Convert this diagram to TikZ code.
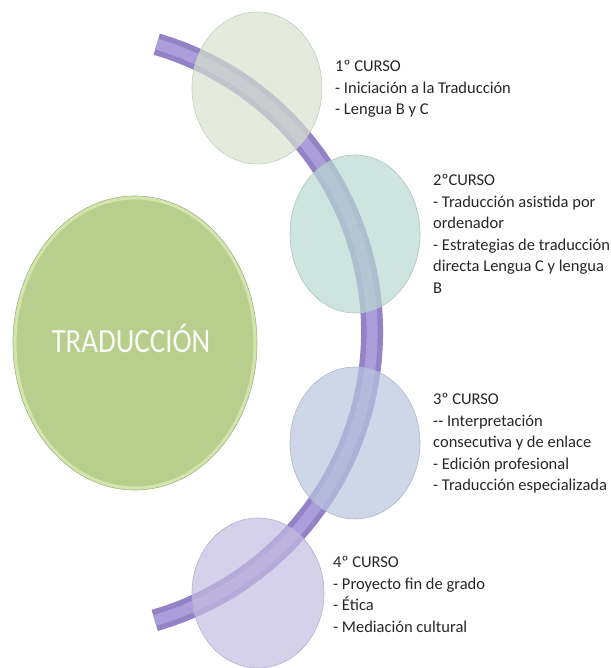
\documentclass[tikz,border=0pt]{standalone}
\usepackage{fontspec}
\setmainfont{Carlito}
\newfontfamily\titlefont{Carlito}[FakeStretch=0.85]
\usetikzlibrary{positioning,shapes.geometric}
\definecolor{bandouter}{HTML}{9482C7}
\definecolor{bandinner}{HTML}{AC9EDA}
\definecolor{titlegreen}{HTML}{B8CE8D}
\definecolor{titlerim}{HTML}{D2E5AD}
\definecolor{textgray}{HTML}{262626}
\definecolor{primero}{HTML}{D8E1CD}
\definecolor{segundo}{HTML}{B8D8D1}
\definecolor{tercero}{HTML}{B9C6DE}
\definecolor{cuarto}{HTML}{C4BDE1}

\begin{document}
\begin{tikzpicture}[
    x=1pt, y=1pt,
    every node/.style={inner sep=0pt},
    curso/.style={ellipse, minimum width=132pt, minimum height=154pt,
        fill opacity=0.7, line width=0.6pt},
    nota/.style={anchor=base west, align=left, text=textgray,
        font=\fontsize{16.5}{21.5}\selectfont}
]
    \useasboundingbox (0,0) rectangle (610,668);

    % the purple band, behind everything
    \coordinate (arcc) at (72,336);
    \draw[bandouter, line width=22pt] ([shift={(73.6:300)}]arcc) arc[start angle=73.6, end angle=-74, radius=300];
    \draw[bandinner, line width=11pt] ([shift={(73.6:300)}]arcc) arc[start angle=73.6, end angle=-74, radius=300];

    % central circle
    \node[ellipse, minimum width=244pt, minimum height=294pt, fill=titlegreen,
        draw=titlegreen!70!gray, line width=0.6pt,
        path picture={\draw[titlerim, line width=7pt] (path picture bounding box.center) ellipse[x radius=122, y radius=147];}]
        (trad) at (135,325) {};
    \node[text=white!92!titlegreen, font=\titlefont\fontsize{34}{40}\selectfont] (tradtext) at (131,330) {TRADUCCIÓN};

    % one circle per year, on the band
    \node[curso, fill=primero, draw=primero!80!gray, minimum height=152pt, minimum width=130pt] (c1) at (257,580) {};
    \node[curso, fill=segundo, draw=segundo!80!gray, minimum height=158pt, minimum width=130pt] (c2) at (355,434) {};
    \node[curso, fill=tercero, draw=tercero!80!gray, minimum height=152pt, minimum width=130pt] (c3) at (355,225) {};
    \node[curso, fill=cuarto, draw=cuarto!80!gray, minimum height=150pt] (c4) at (258,75) {};

    % the notes (base = last line)
    \node[nota] (n1) at (335,553) {1º CURSO\\- Iniciación a la Traducción\\- Lengua B y C};
    \node[nota] (n2) at (433,374.5) {2ºCURSO\\- Traducción asistida por\\ordenador\\- Estrategias de traducción\\directa Lengua C y lengua\\B};
    \node[nota] (n3) at (433,177) {3º CURSO\\-{}- Interpretación\\consecutiva y de enlace\\- Edición profesional\\- Traducción especializada};
    \node[nota] (n4) at (333,35.5) {4º CURSO\\- Proyecto fin de grado\\- Ética\\- Mediación cultural};
\end{tikzpicture}
\end{document}
